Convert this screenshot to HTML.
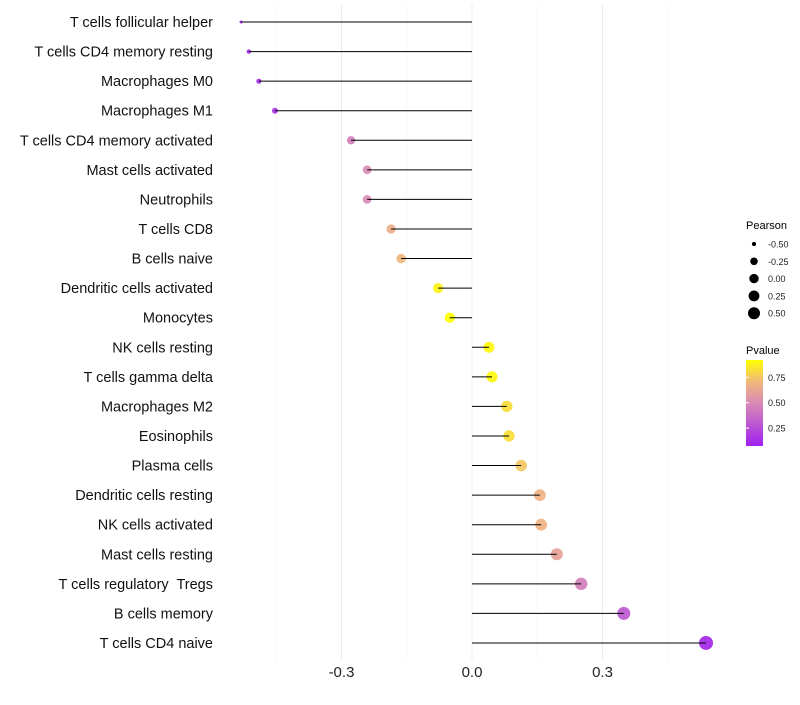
<!DOCTYPE html>
<html><head><meta charset="utf-8"><style>
body{margin:0;background:#fff;font-family:"Liberation Sans",sans-serif}
svg text{font-family:"Liberation Sans",sans-serif;white-space:pre}
</style></head><body>
<svg id="chart" width="800" height="700">
<defs><linearGradient id="pg" x1="0" y1="1" x2="0" y2="0">
<stop offset="0" stop-color="#A020F0"/><stop offset="0.5" stop-color="#D98BB5"/><stop offset="0.75" stop-color="#F2B87A"/><stop offset="1" stop-color="#FFFF00"/></linearGradient></defs>
<g id="grid"></g><g id="dots"></g><g id="marks"></g><g id="labels"></g>
<g id="legend"></g>
</svg>
<script>
const categories=["T cells follicular helper","T cells CD4 memory resting","Macrophages M0","Macrophages M1","T cells CD4 memory activated","Mast cells activated","Neutrophils","T cells CD8","B cells naive","Dendritic cells activated","Monocytes","NK cells resting","T cells gamma delta","Macrophages M2","Eosinophils","Plasma cells","Dendritic cells resting","NK cells activated","Mast cells resting","T cells regulatory  Tregs","B cells memory","T cells CD4 naive"];
const pearson=[-0.531,-0.513,-0.490,-0.453,-0.278,-0.241,-0.241,-0.186,-0.163,-0.078,-0.051,0.039,0.046,0.080,0.085,0.113,0.156,0.159,0.195,0.251,0.349,0.538];
const pvalues=[0.08,0.1,0.12,0.15,0.45,0.5,0.5,0.65,0.7,0.88,0.92,0.9,0.9,0.82,0.82,0.75,0.68,0.68,0.6,0.45,0.3,0.1];
const xTicks=[-0.3,0.0,0.3];
const xTickLabels=["-0.3","0.0","0.3"];
const sizeLegend=[-0.5,-0.25,0,0.25,0.5];
const sizeLegendLabels=["-0.50","-0.25","0.00","0.25","0.50"];
const colorLegend=[0.25,0.5,0.75];
const colorLegendLabels=["0.25","0.50","0.75"];
const NS="http://www.w3.org/2000/svg";
const x=v=>472+v*435;
const y=i=>22+i*29.57;
const vmin=Math.min(...pearson),vmax=Math.max(...pearson);
const r=v=>1.5+5.5*Math.sqrt(Math.max(0,Math.min(1,(v-vmin)/(vmax-vmin))));
const pmin=0.074,pmax=0.92;
const stops=[[0,[160,32,240]],[0.5,[217,139,181]],[0.75,[242,184,122]],[1,[255,255,0]]];
function col(p){let t=Math.max(0,Math.min(1,(p-pmin)/(pmax-pmin)));for(let k=1;k<stops.length;k++){if(t<=stops[k][0]){const a=stops[k-1],b=stops[k];const f=(t-a[0])/(b[0]-a[0]);return "rgb("+a[1].map((c,j)=>Math.round(c+(b[1][j]-c)*f)).join(",")+")";}}return "rgb(255,255,0)";}
function mk(tag,at,parent){const e=document.createElementNS(NS,tag);for(const k in at)e.setAttribute(k,at[k]);document.getElementById(parent).appendChild(e);return e;}
[-0.45,-0.15,0.15,0.45].forEach(v=>{const g=mk("line",{x1:x(v),x2:x(v),y1:5,y2:660,stroke:"#f3f3f3","stroke-width":0.6},"grid");});
xTicks.forEach((v,i)=>{const g=mk("line",{x1:x(v),x2:x(v),y1:5,y2:660,stroke:"#ebebeb","stroke-width":1},"grid");
const t=mk("text",{x:x(v),y:677,"text-anchor":"middle","font-size":15,fill:"#222"},"labels");t.textContent=xTickLabels[i];});
categories.forEach((c,i)=>{
const d=mk("circle",{cx:x(pearson[i]),cy:y(i),r:r(pearson[i]),fill:col(pvalues[i]),"fill-opacity":0.92},"dots");
const l=mk("line",{x1:x(0),x2:x(pearson[i]),y1:y(i),y2:y(i),stroke:"#000","stroke-width":1},"marks");
const t=mk("text",{x:213,y:y(i)+5,"text-anchor":"end","font-size":14.5,fill:"#111","xml:space":"preserve"},"labels");t.textContent=c;});
let t=mk("text",{x:746,y:229,"font-size":11,fill:"#000"},"legend");t.textContent="Pearson";
sizeLegend.forEach((v,i)=>{const cy=244+i*17.3;const c=mk("circle",{cx:754,cy:cy,r:r(v)*0.87,fill:"#000"},"legend");
const s=mk("text",{x:768,y:cy+3.5,"font-size":9,fill:"#222"},"legend");s.textContent=sizeLegendLabels[i];});
t=mk("text",{x:746,y:354,"font-size":11,fill:"#000"},"legend");t.textContent="Pvalue";
const bar=mk("rect",{x:746,y:360,width:17,height:86,fill:"url(#pg)"},"legend");
const py=p=>446-(p-pmin)/(pmax-pmin)*86;
colorLegend.forEach((v,i)=>{const s=mk("text",{x:768,y:py(v)+3.5,"font-size":9,fill:"#222"},"legend");s.textContent=colorLegendLabels[i];
const k=mk("line",{x1:746,x2:749,y1:py(v),y2:py(v),stroke:"#fff"},"legend");});
</script>
</body></html>
